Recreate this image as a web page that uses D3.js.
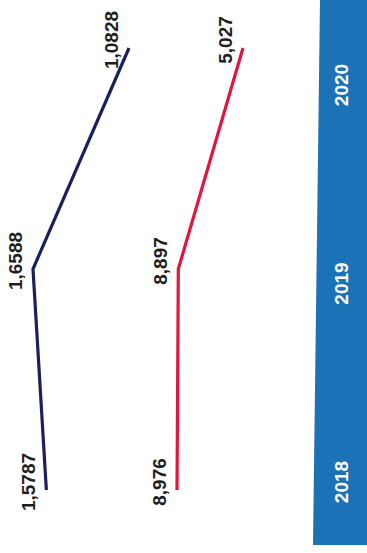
<!DOCTYPE html>
<html><head><meta charset="utf-8">
<script src="https://cdn.jsdelivr.net/npm/d3@7"></script>
<style>html,body{margin:0;padding:0;background:#fff;}svg{display:block;}</style>
</head><body>
<svg id="c" width="367" height="553"></svg>
<script>
const years = ["2018", "2019", "2020"];
const seriesA = [1.5787, 1.6588, 1.0828];
const seriesB = [8.976, 8.897, 5.027];
const decimalsA = 4;
const decimalsB = 3;

const svg = d3.select("#c");
const W = 367, H = 553;

const loc = d3.formatLocale({decimal: ",", thousands: ".", grouping: [3], currency: ["", ""]});

// chart is rotated: years run bottom-to-top, values run right-to-left
const y = d3.scalePoint().domain(years).range([490, 48]);
const yLab = d3.scalePoint().domain(years).range([482, 85]);
const xA = d3.scaleLinear().domain([d3.min(seriesA), d3.max(seriesA)]).range([129, 33]);
const xB = d3.scaleLinear().domain([d3.min(seriesB), d3.max(seriesB)]).range([243, 177]);

// blue band
svg.append("path")
  .attr("d", "M320,0 L367,0 L367,545 L313,545 Z")
  .attr("fill", "#1b72b7");

svg.selectAll("text.yr").data(years).join("text")
  .attr("class", "yr")
  .attr("transform", d => `translate(341,${yLab(d)}) rotate(-90)`)
  .attr("text-anchor", "middle")
  .attr("dominant-baseline", "central")
  .attr("fill", "#fff")
  .attr("font-family", "Liberation Sans, Arial, sans-serif")
  .attr("font-weight", "bold")
  .attr("font-size", 19)
  .text(d => d);

function drawSeries(vals, xs, color, dec) {
  const pts = vals.map((v, i) => ({v, yr: years[i]}));
  const line = d3.line().x(d => xs(d.v)).y(d => y(d.yr));
  svg.append("path").datum(pts)
    .attr("d", line)
    .attr("fill", "none")
    .attr("stroke", color)
    .attr("stroke-width", 3.2)
    .attr("stroke-linejoin", "miter");
  const f = loc.format("." + dec + "f");
  svg.append("g").selectAll("text").data(pts).join("text")
    .attr("transform", d => `translate(${xs(d.v) - 18},${y(d.yr) - 8}) rotate(-90)`)
    .attr("text-anchor", "middle")
    .attr("dominant-baseline", "central")
    .attr("fill", "#1e1e1e")
    .attr("font-family", "Liberation Sans, Arial, sans-serif")
    .attr("font-weight", "bold")
    .attr("font-size", 19)
    .text(d => f(d.v));
}
drawSeries(seriesA, xA, "#1b1f5c", decimalsA);
drawSeries(seriesB, xB, "#e0163f", decimalsB);
</script>
</body></html>
